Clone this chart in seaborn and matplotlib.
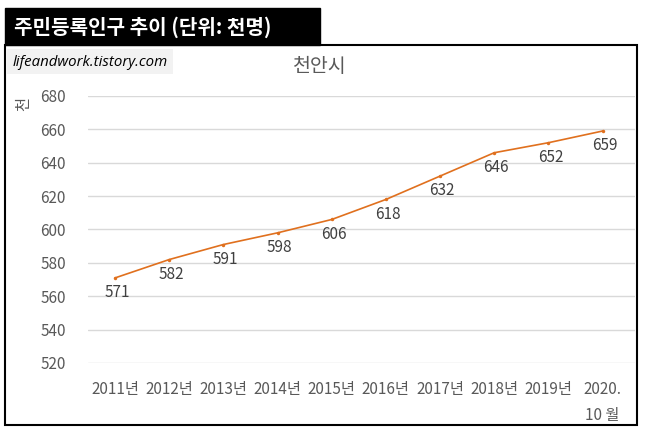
import numpy as np
import pandas as pd
import seaborn as sns
from matplotlib import pyplot as plt
from matplotlib.patches import Rectangle

# population data (thousands)
years = ['2011년', '2012년', '2013년', '2014년', '2015년', '2016년', '2017년', '2018년', '2019년', '2020.\n10 월']
pop = [571, 582, 591, 598, 606, 618, 632, 646, 652, 659]
yticks = [520, 540, 560, 580, 600, 620, 640, 660, 680]

sns.set_style('white')
plt.rcParams['font.family'] = ['Noto Sans CJK KR', 'DejaVu Sans']

df = pd.DataFrame({'year': years, 'pop': pop})
df['x'] = np.arange(len(df))

fig = plt.figure(figsize=(6.47, 4.37), dpi=100)
ax = fig.add_axes([88/647, 1-363/437, (635-88)/647, (363-96)/437])

sns.lineplot(x='x', y='pop', data=df, ax=ax, color='#E0701E', linewidth=1.2,
             marker='o', markersize=2.5, markeredgewidth=0)

for xi, v in zip(df['x'], df['pop']):
    ax.annotate(str(v), (xi, v), xytext=(1.5, -10.5), textcoords='offset points',
                ha='center', va='center', fontsize=11, color='#404040')

ax.set_ylim(520, 680)
ax.set_xlim(-0.5, 9.6)
ax.set_yticks(yticks)
ax.set_xticks(df['x'])
ax.set_xticklabels(years, linespacing=1.7)
ax.yaxis.grid(True, color='#d9d9d9', linewidth=1)
ax.tick_params(axis='both', length=0, labelsize=11, colors='#595959')
ax.tick_params(axis='x', pad=13)
ax.tick_params(axis='y', pad=16)
for s in ax.spines.values():
    s.set_visible(False)
ax.set_xlabel('')
ax.set_ylabel('')

# chart border and header
fig.patches.append(Rectangle((5/647, 1-425/437), 632/647, 380/437, transform=fig.transFigure,
                             fill=False, edgecolor='black', linewidth=1.5))
fig.patches.append(Rectangle((5/647, 1-45/437), 315/647, 37/437, transform=fig.transFigure,
                             facecolor='black', edgecolor='black'))
fig.text(14/647, 1-27/437, '주민등록인구 추이 (단위: 천명)', color='white', fontsize=14.5,
         fontweight='bold', va='center', ha='left')
fig.patches.append(Rectangle((7/647, 1-74/437), 166/647, 25/437, transform=fig.transFigure,
                             facecolor='#f2f2f2', edgecolor='none'))
fig.text(13/647, 1-62/437, 'lifeandwork.tistory.com', fontsize=10.8, style='italic',
         color='black', va='center', ha='left', family=['Open Sans', 'DejaVu Sans'])
fig.text(320/647, 1-66/437, '천안시', fontsize=14, color='#595959', ha='center', va='center')
fig.text(24/647, 1-104/437, '천', fontsize=11, color='#595959', ha='center', va='center', rotation=90)

fig.savefig('out.png', dpi=100)
